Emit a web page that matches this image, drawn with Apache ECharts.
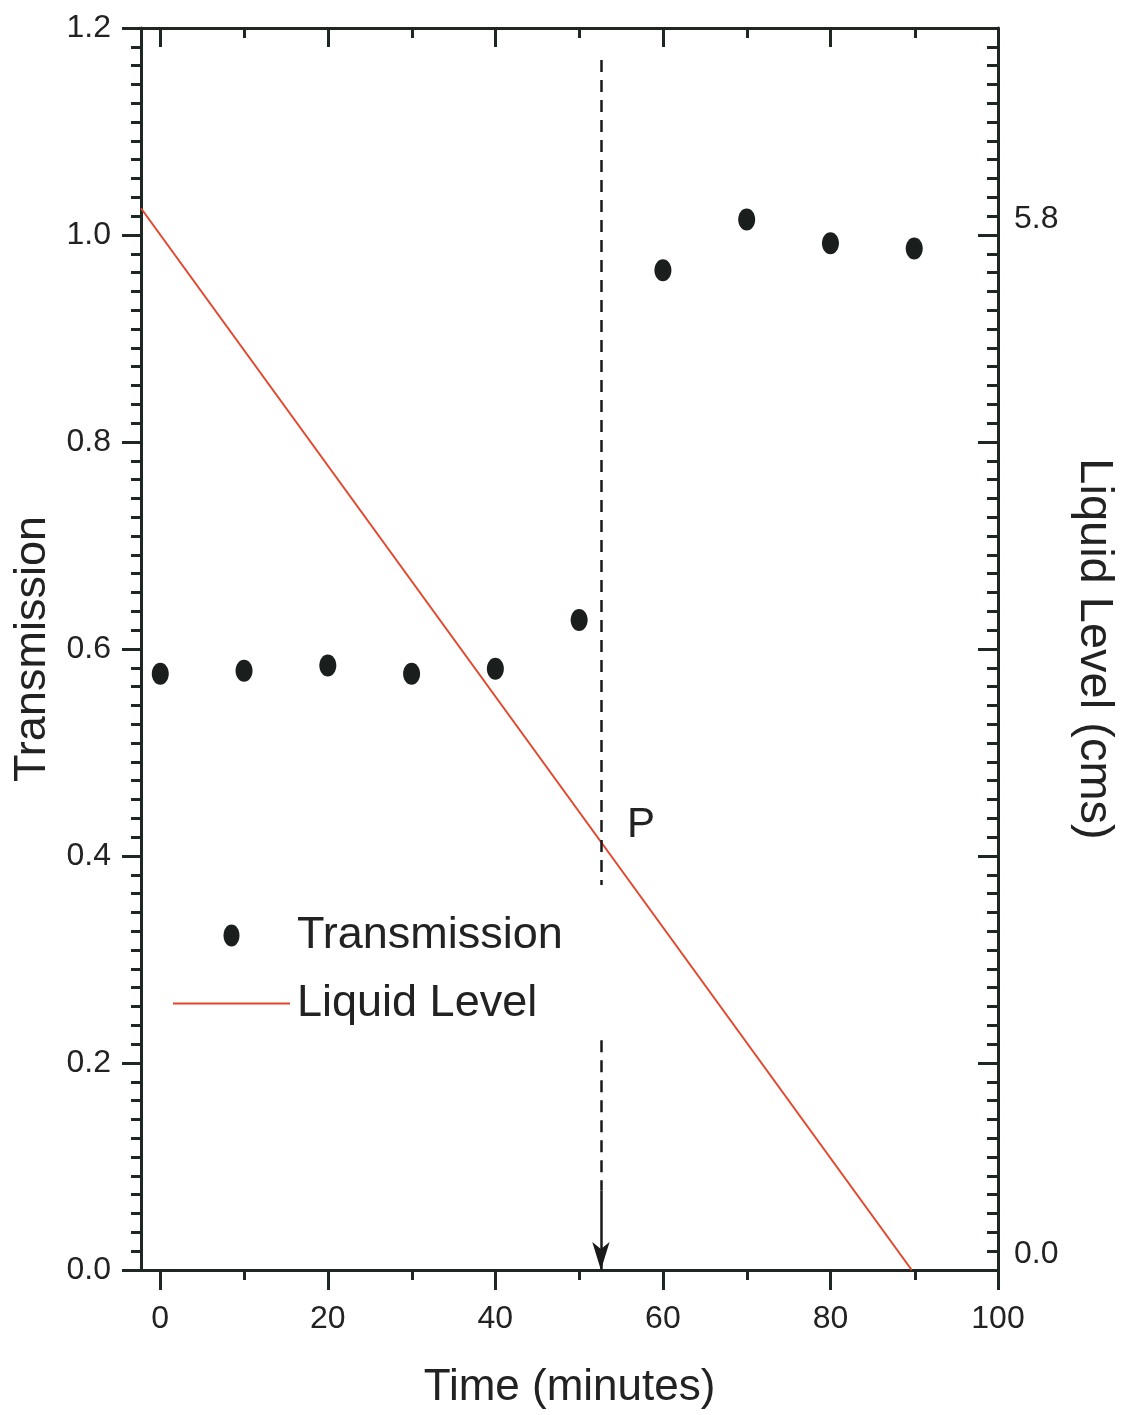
<!DOCTYPE html>
<html>
<head>
<meta charset="utf-8">
<script src="https://cdn.jsdelivr.net/npm/echarts@6/dist/echarts.min.js"></script>
<style>
html,body{margin:0;padding:0;background:#fff;}
#chart{width:1125px;height:1415px;}
</style>
</head>
<body>
<div id="chart"></div>
<script>
// ---- data ----
const times = [0, 10, 20, 30, 40, 50, 60, 70, 80, 90];
const transmission = [0.576, 0.579, 0.584, 0.576, 0.581, 0.628, 0.966, 1.015, 0.992, 0.987];
const levelTimes = [-2.3, 89.7];
const levelValues = [5.95, 0];
const xMajorTicks = [0, 20, 40, 60, 80, 100];
const xMinorTicks = [10, 30, 50, 70, 90];
const rightLabelValues = [0, 5.8];
const rightLabelTexts = ['0.0', '5.8'];
const pointPTime = 52.6;
const dashedSegments = [[1.169, 0.372], [0.222, 0.077]];
const arrowSegment = [0.077, 0];
const labelP = {text: 'P', time: 57.4, value: 0.43};

const FONT = 'Liberation Sans, Arial, sans-serif';
const AX = '#1f2722';
const TXT = '#222';
const ellipse = 'path://M8,0 C3.6,0 0,4.9 0,11 C0,17.1 3.6,22 8,22 C12.4,22 16,17.1 16,11 C16,4.9 12.4,0 8,0 Z';
const lineIcon = 'path://M0,0 L117,0 L117,2 L0,2 Z';

const gridRect = {left: 141, right: 126, top: 28, bottom: 145};

const chart = echarts.init(document.getElementById('chart'), null, {renderer: 'canvas'});

const markData = dashedSegments.map(s => [
  {coord: [pointPTime, s[0]], symbol: 'none'},
  {coord: [pointPTime, s[1]], symbol: 'none'}
]);
markData.push([
  {coord: [pointPTime, arrowSegment[0]], symbol: 'none', lineStyle: {type: 'solid'}},
  {coord: [pointPTime, arrowSegment[1]], symbol: 'arrow', symbolSize: [13, 28], lineStyle: {type: 'solid'}}
]);

const option = {
  backgroundColor: '#fff',
  animation: false,
  textStyle: {fontFamily: FONT, color: TXT},
  grid: [
    Object.assign({}, gridRect, {containLabel: false}),
    Object.assign({}, gridRect, {containLabel: false})
  ],
  legend: {
    orient: 'vertical',
    left: 168,
    top: 908,
    itemWidth: 117,
    itemHeight: 22,
    itemGap: 23,
    textStyle: {fontFamily: FONT, fontSize: 45, color: TXT, lineHeight: 44, padding: [0, 0, 0, 2]},
    data: [{name: 'Transmission', icon: ellipse}, {name: 'Liquid Level', icon: lineIcon}]
  },
  xAxis: [
    {
      gridIndex: 0, type: 'value', position: 'bottom', min: -2.3, max: 100,
      name: 'Time (minutes)', nameLocation: 'middle', nameGap: 96,
      nameTextStyle: {fontFamily: FONT, fontSize: 44, color: TXT},
      axisLine: {show: true, onZero: false, lineStyle: {color: AX, width: 3}},
      axisTick: {show: true, inside: false, length: 20, customValues: xMajorTicks, lineStyle: {color: AX, width: 3}},
      axisLabel: {show: true, margin: 33, fontSize: 32, color: TXT, fontFamily: FONT, customValues: xMajorTicks, formatter: v => String(v)},
      splitLine: {show: false}
    },
    {
      gridIndex: 0, type: 'value', position: 'top', min: -2.3, max: 100,
      axisLine: {show: true, onZero: false, lineStyle: {color: AX, width: 3}},
      axisTick: {show: true, inside: true, length: 19, customValues: xMajorTicks, lineStyle: {color: AX, width: 3}},
      axisLabel: {show: false},
      splitLine: {show: false}
    },
    {
      gridIndex: 1, type: 'value', position: 'bottom', min: -2.3, max: 100,
      axisLine: {show: false, onZero: false},
      axisTick: {show: true, inside: false, length: 10, customValues: xMinorTicks, lineStyle: {color: AX, width: 3}},
      axisLabel: {show: false},
      splitLine: {show: false}
    },
    {
      gridIndex: 1, type: 'value', position: 'top', min: -2.3, max: 100,
      axisLine: {show: false, onZero: false},
      axisTick: {show: true, inside: true, length: 10, customValues: xMinorTicks, lineStyle: {color: AX, width: 3}},
      axisLabel: {show: false},
      splitLine: {show: false}
    }
  ],
  yAxis: [
    {
      gridIndex: 0, type: 'value', position: 'left', min: 0, max: 1.2, interval: 0.2,
      name: 'Transmission', nameLocation: 'middle', nameGap: 86,
      nameTextStyle: {fontFamily: FONT, fontSize: 45, color: TXT},
      axisLine: {show: true, onZero: false, lineStyle: {color: AX, width: 3}},
      axisTick: {show: true, inside: false, length: 19, lineStyle: {color: AX, width: 3}},
      minorTick: {show: true, splitNumber: 11, length: 10, lineStyle: {color: AX, width: 3}},
      axisLabel: {show: true, margin: 30, fontSize: 32, color: TXT, fontFamily: FONT, formatter: v => v.toFixed(1)},
      splitLine: {show: false}, minorSplitLine: {show: false}
    },
    {
      gridIndex: 0, type: 'value', position: 'right', min: 0, max: 6.96, interval: 1.16,
      name: 'Liquid Level (cms)', nameLocation: 'middle', nameGap: 72, nameRotate: -90,
      nameTextStyle: {fontFamily: FONT, fontSize: 47, color: TXT},
      axisLine: {show: true, onZero: false, lineStyle: {color: AX, width: 3}},
      axisTick: {show: true, inside: true, length: 20, lineStyle: {color: AX, width: 3}},
      minorTick: {show: true, splitNumber: 11, length: 11, lineStyle: {color: AX, width: 3}},
      axisLabel: {
        show: true, margin: 16, fontSize: 32, color: TXT, fontFamily: FONT, verticalAlign: 'bottom',
        formatter: v => {
          for (let i = 0; i < rightLabelValues.length; i++) {
            if (Math.abs(v - rightLabelValues[i]) < 1e-6) return rightLabelTexts[i];
          }
          return '';
        }
      },
      splitLine: {show: false}, minorSplitLine: {show: false}
    },
    {
      gridIndex: 1, type: 'value', show: false, min: 0, max: 1.2
    }
  ],
  series: [
    {
      name: 'Liquid Level', type: 'line', xAxisIndex: 0, yAxisIndex: 1,
      data: levelTimes.map((t, i) => [t, levelValues[i]]),
      symbol: 'none', showSymbol: false, clip: true,
      lineStyle: {color: '#e4462c', width: 2},
      itemStyle: {color: '#e4462c'},
      z: 3
    },
    {
      name: 'Transmission', type: 'scatter', xAxisIndex: 0, yAxisIndex: 0,
      data: times.map((t, i) => [t, transmission[i]]),
      symbol: ellipse, symbolSize: [17, 22], symbolKeepAspect: false,
      itemStyle: {color: '#1a1f1d', opacity: 1},
      z: 4,
      markLine: {
        silent: true, symbol: 'none', animation: false,
        lineStyle: {color: '#1a1a1a', width: 2.5, type: [12, 8]},
        label: {show: false},
        data: markData
      },
      markPoint: {
        silent: true, symbol: 'circle', symbolSize: 0,
        label: {show: true, formatter: labelP.text, fontSize: 42, color: TXT, fontFamily: FONT, position: 'inside'},
        data: [{coord: [labelP.time, labelP.value]}]
      }
    }
  ]
};
chart.setOption(option);
</script>
</body>
</html>
